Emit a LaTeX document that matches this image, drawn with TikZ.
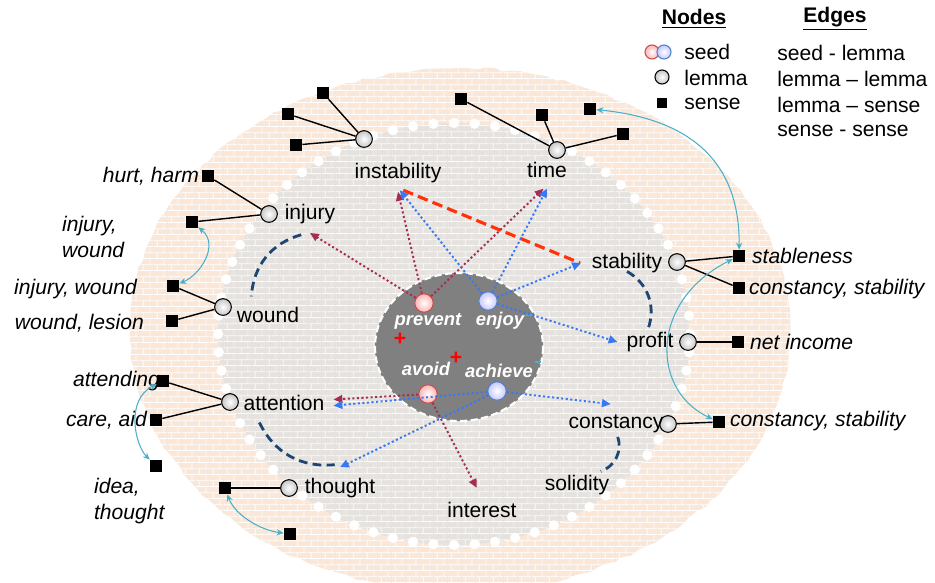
\documentclass[tikz,border=0pt]{standalone}
\usepackage{fontspec}
\setmainfont{Liberation Sans}
\usetikzlibrary{arrows.meta,patterns,decorations.pathmorphing}
\definecolor{peach}{RGB}{250,231,216}
\definecolor{pale}{RGB}{229,226,223}
\definecolor{core}{RGB}{128,128,128}
\definecolor{seedred}{RGB}{200,80,80}
\definecolor{seedblue}{RGB}{80,130,200}
\definecolor{plum}{RGB}{165,45,85}
\definecolor{sky}{RGB}{55,120,245}
\definecolor{navy}{RGB}{30,70,115}
\definecolor{antired}{RGB}{255,50,10}
\definecolor{linkcyan}{RGB}{75,175,200}
\pgfdeclarepatternformonly{smallbricks}{\pgfpointorigin}{\pgfpoint{8pt}{7pt}}{\pgfpoint{8pt}{7pt}}{%
  \pgfsetlinewidth{0.45pt}%
  \pgfpathmoveto{\pgfpoint{0pt}{0.3pt}}\pgfpathlineto{\pgfpoint{8pt}{0.3pt}}%
  \pgfpathmoveto{\pgfpoint{0pt}{3.8pt}}\pgfpathlineto{\pgfpoint{8pt}{3.8pt}}%
  \pgfpathmoveto{\pgfpoint{2pt}{0.3pt}}\pgfpathlineto{\pgfpoint{2pt}{3.8pt}}%
  \pgfpathmoveto{\pgfpoint{6pt}{3.8pt}}\pgfpathlineto{\pgfpoint{6pt}{7pt}}%
  \pgfusepath{stroke}}
\begin{document}
\begin{tikzpicture}[x=0.02cm,y=-0.02cm,
    every node/.style={font=\fontsize{12}{15}\selectfont},
    lemma/.style={circle,draw,line width=0.6pt,inner sep=0pt,minimum size=9.5pt,inner color=white,outer color=gray!45},
    sense/.style={rectangle,fill=black,inner sep=0pt,minimum size=6.8pt},
    seedr/.style={circle,draw=seedred,line width=0.6pt,inner sep=0pt,minimum size=10.5pt,inner color=white,outer color=red!30},
    seedb/.style={circle,draw=seedblue,line width=0.6pt,inner sep=0pt,minimum size=10.5pt,inner color=white,outer color=blue!22},
    word/.style={inner sep=2pt},
    gloss/.style={inner sep=1pt,font=\fontsize{12}{15}\selectfont\itshape},
    seedword/.style={text=white,inner sep=1pt,font=\fontsize{10.5}{12}\selectfont\bfseries\itshape},
    lsense/.style={line width=0.8pt},
    redseed/.style={plum,line width=1.1pt,dash pattern=on 1.2pt off 1.4pt,->},
    blueseed/.style={sky,line width=1.1pt,dash pattern=on 1.2pt off 1.4pt,->},
    lemmaedge/.style={navy,line width=1.6pt,dash pattern=on 5pt off 3pt},
    antonym/.style={antired,line width=1.8pt,dash pattern=on 6pt off 3pt},
    senseedge/.style={linkcyan,line width=0.6pt,>={Stealth[length=4pt,width=3.5pt]},<->},
    >={Triangle[length=5pt,width=4.5pt]}]
\useasboundingbox (0,0) rectangle (935,582);
\begin{scope}
  \clip (0,0) rectangle (935,582);
  \pgfmathsetseed{7}
  \path[decorate,decoration={random steps,segment length=5pt,amplitude=0.8pt},preaction={fill=peach},pattern=smallbricks,pattern color=white] (460,330) ellipse [x radius=330, y radius=262];
\end{scope}
\path[preaction={fill=pale},pattern=smallbricks,pattern color=white!85!pale] (454,334) ellipse [x radius=236, y radius=211];
\foreach \a in {0,5,...,355}
  \fill[white] (454,334) ++(\a:236 and 211) circle (2.9pt);
\draw[white,fill=core,line width=1.2pt,dash pattern=on 4pt off 2pt] (459,347) ellipse [x radius=84, y radius=74];

% legend
\node[font=\fontsize{12}{15}\selectfont\bfseries] (nodes-h) at (694,19) {\underline{Nodes}};
\node[font=\fontsize{12}{15}\selectfont\bfseries] (edges-h) at (835,19) {\underline{Edges}};
\node[seedr,minimum size=8pt] (key-red) at (652,52) {};
\node[seedb,minimum size=8pt] (key-blue) at (664,52) {};
\node[lemma,minimum size=8pt] (key-lemma) at (662,77) {};
\node[sense,minimum size=6pt] (key-sense) at (662,103) {};
\node[anchor=west,inner sep=0pt] (key-seed-t) at (684,52) {seed};
\node[anchor=west,inner sep=0pt] (key-lemma-t) at (684,78) {lemma};
\node[anchor=west,inner sep=0pt] (key-sense-t) at (684,104) {sense};
\node[anchor=west,inner sep=0pt] (e1) at (777,53) {seed - lemma};
\node[anchor=west,inner sep=0pt] (e2) at (777,79) {lemma -- lemma};
\node[anchor=west,inner sep=0pt] (e3) at (777,105) {lemma -- sense};
\node[anchor=west,inner sep=0pt] (e4) at (777,131) {sense - sense};

% seeds
\node[seedr] (prevent) at (424,303) {};
\node[seedb] (enjoy) at (488,301) {};
\node[seedr] (avoid) at (428,394) {};
\node[seedb] (achieve) at (497,391) {};
\node[seedword] (prevent-t) at (428,321) {prevent};
\node[seedword] (enjoy-t) at (500,321) {enjoy};
\node[seedword] (avoid-t) at (426,369) {avoid};
\node[seedword] (achieve-t) at (499,371) {achieve};
\node[text=red,font=\fontsize{12}{15}\selectfont\bfseries,inner sep=0pt] (mark1) at (400,339) {+};
\node[text=red,font=\fontsize{12}{15}\selectfont\bfseries,inner sep=0pt] (mark2) at (456,358) {+};
\draw[linkcyan,line width=1.5pt] (526,315) -- (532,315);
\draw[linkcyan,line width=1.5pt] (535,362) -- (541,362);

% lemmas
\node[lemma] (instability) at (364,139) {};
\node[lemma] (time) at (557,150) {};
\node[lemma] (injury) at (269,214) {};
\node[lemma] (wound) at (223,307) {};
\node[lemma] (attention) at (230,402) {};
\node[lemma] (thought) at (289,488) {};
\node[lemma] (stability) at (677,262) {};
\node[lemma] (profit) at (688,342) {};
\node[lemma] (constancy) at (668,424) {};
\node[word] (instability-t) at (398,173) {instability};
\node[word] (time-t) at (547,170) {time};
\node[word] (injury-t) at (310,214) {injury};
\node[word] (wound-t) at (268,315) {wound};
\node[word] (attention-t) at (284,403) {attention};
\node[word] (thought-t) at (340,488) {thought};
\node[word] (stability-t) at (627,263) {stability};
\node[word] (profit-t) at (650,342) {profit};
\node[word] (constancy-t) at (616,424) {constancy};
\node[word] (solidity-t) at (577,485) {solidity};
\node[word] (interest-t) at (482,510) {interest};

% senses
\node[sense] (ins1) at (323,93) {};
\node[sense] (ins2) at (288,114) {};
\node[sense] (ins3) at (296,145) {};
\node[sense] (tim1) at (461,99) {};
\node[sense] (tim2) at (542,115) {};
\node[sense] (tim3) at (623,134) {};
\node[sense] (tim4) at (590,109) {};
\node[sense] (hurt) at (208,176) {};
\node[sense] (injw1) at (192,222) {};
\node[sense] (injw2) at (173,286) {};
\node[sense] (lesion) at (172,321) {};
\node[sense] (attending) at (163,381) {};
\node[sense] (care) at (156,420) {};
\node[sense] (idea) at (156,466) {};
\node[sense] (thoughts) at (225,488) {};
\node[sense] (thoughtx) at (290,534) {};
\node[sense] (stableness) at (739,256) {};
\node[sense] (constab1) at (739,288) {};
\node[sense] (netinc) at (738,342) {};
\node[sense] (constab2) at (719,422) {};
\node[gloss,anchor=east] (hurt-g) at (201,176) {hurt, harm};
\node[gloss,anchor=west,align=left] (injw1-g) at (60,237) {injury,\\wound};
\node[gloss,anchor=east] (injw2-g) at (139,289) {injury, wound};
\node[gloss,anchor=east] (lesion-g) at (146,323) {wound, lesion};
\node[gloss,anchor=east] (attending-g) at (162,381) {attending};
\node[gloss,anchor=east] (care-g) at (149,420) {care, aid};
\node[gloss,anchor=west,align=left] (idea-g) at (92,501) {idea,\\thought};
\node[gloss,anchor=west] (stableness-g) at (750,256) {stableness};
\node[gloss,anchor=west] (constab1-g) at (747,289) {constancy, stability};
\node[gloss,anchor=west] (netinc-g) at (748,342) {net income};
\node[gloss,anchor=west] (constab2-g) at (728,421) {constancy, stability};

% lemma - sense
\draw[lsense] (instability) -- (ins1);
\draw[lsense] (instability) -- (ins2);
\draw[lsense] (instability) -- (ins3);
\draw[lsense] (time) -- (tim1);
\draw[lsense] (time) -- (tim2);
\draw[lsense] (time) -- (tim3);
\draw[lsense] (injury) -- (hurt);
\draw[lsense] (injury) -- (injw1);
\draw[lsense] (wound) -- (injw2);
\draw[lsense] (wound) -- (lesion);
\draw[lsense] (attention) -- (attending);
\draw[lsense] (attention) -- (care);
\draw[lsense] (thought) -- (thoughts);
\draw[lsense] (stability) -- (stableness);
\draw[lsense] (stability) -- (constab1);
\draw[lsense] (profit) -- (netinc);
\draw[lsense] (constancy) -- (constab2);

% sense - sense
\draw[senseedge] (injw1) .. controls (220,245) and (200,275) .. (injw2);
\draw[senseedge] (attending) .. controls (125,400) and (135,445) .. (idea);
\draw[senseedge] (thoughts) .. controls (235,515) and (260,530) .. (thoughtx);
\draw[senseedge] (tim4) .. controls (700,120) and (740,170) .. (stableness);
\draw[senseedge] (stableness) .. controls (650,300) and (650,390) .. (constab2);

% lemma - lemma
\draw[lemmaedge] ([xshift=-5pt,yshift=-4pt]injury-t.south) to[bend right=35] ([xshift=-9.5pt,yshift=4pt]wound-t.north);
\draw[lemmaedge] ([xshift=-14pt,yshift=-4.5pt]attention-t.south) to[bend right=35] ([xshift=-3pt,yshift=5.5pt]thought-t.north);
\draw[lemmaedge] ([yshift=3pt]stability-t.south) to[bend left=40] ([xshift=-1pt]profit-t.north);
\draw[lemmaedge] ([xshift=1pt]constancy-t.south) to[bend left=45] ([xshift=-7pt]solidity-t.north east);
\draw[antonym] ([xshift=3pt,yshift=-2pt]instability-t.south) -- ([xshift=-4.5pt]stability-t.west);

% seed - lemma
\draw[redseed] (prevent) -- ([yshift=-3pt]instability-t.south);
\draw[redseed] (prevent) -- ([xshift=-2pt,yshift=-4pt]time-t.south);
\draw[redseed] (prevent) -- ([yshift=-3pt]injury-t.south);
\draw[blueseed] (enjoy) -- ([xshift=1pt,yshift=-2pt]instability-t.south);
\draw[blueseed] (enjoy) -- ([yshift=-4pt]time-t.south);
\draw[blueseed] (enjoy) -- ([xshift=-4pt]stability-t.west);
\draw[blueseed] (enjoy) -- ([xshift=-3pt]profit-t.west);
\draw[redseed] (avoid) -- ([xshift=3pt,yshift=2pt]attention-t.east);
\draw[redseed] (avoid) -- ([xshift=-3pt,yshift=6pt]interest-t.north);
\draw[blueseed] (achieve) -- ([xshift=3pt,yshift=-1.5pt]attention-t.east);
\draw[blueseed] (achieve) -- ([yshift=4pt]thought-t.north);
\draw[blueseed] (achieve) -- ([xshift=-3pt,yshift=4pt]constancy-t.north);
\end{tikzpicture}
\end{document}
